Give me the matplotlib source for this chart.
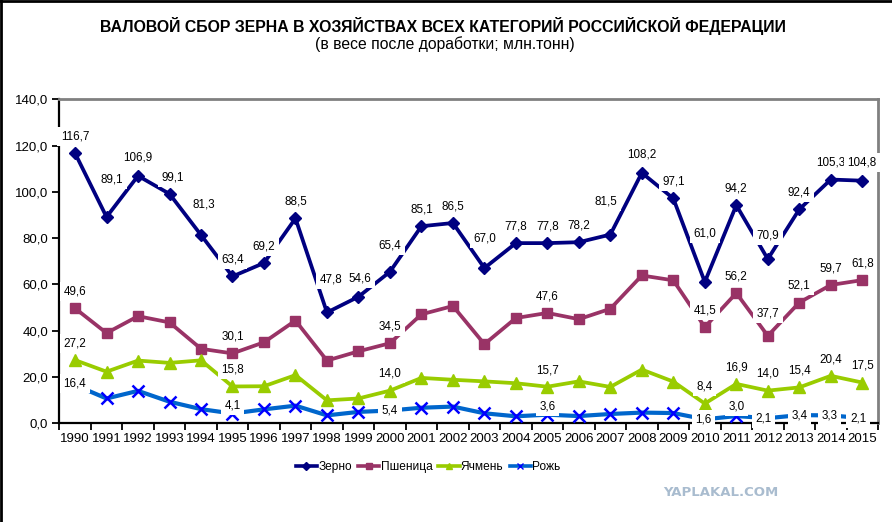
import matplotlib
matplotlib.use('Agg')
import matplotlib.pyplot as plt
from matplotlib.lines import Line2D
import numpy as np

plt.rcParams['font.family'] = ['Liberation Sans', 'DejaVu Sans']

years = [str(y) for y in range(1990, 2016)]

grain = [116.7, 89.1, 106.9, 99.1, 81.3, 63.4, 69.2, 88.5, 47.8, 54.6, 65.4, 85.1, 86.5,
         67.0, 77.8, 77.8, 78.2, 81.5, 108.2, 97.1, 61.0, 94.2, 70.9, 92.4, 105.3, 104.8]
wheat = [49.6, 38.9, 46.2, 43.5, 32.1, 30.1, 34.9, 44.3, 27.0, 31.0, 34.5, 47.0, 50.6,
         34.1, 45.4, 47.6, 44.9, 49.4, 63.8, 61.7, 41.5, 56.2, 37.7, 52.1, 59.7, 61.8]
barley = [27.2, 22.2, 27.0, 26.0, 27.1, 15.8, 15.9, 20.7, 9.8, 10.6, 14.0, 19.5, 18.7,
          18.0, 17.2, 15.7, 18.0, 15.6, 23.1, 17.9, 8.4, 16.9, 14.0, 15.4, 20.4, 17.5]
rye = [16.4, 10.6, 13.9, 9.2, 6.0, 4.1, 5.9, 7.5, 3.3, 4.8, 5.4, 6.6, 7.1,
       4.2, 2.9, 3.6, 3.0, 3.9, 4.5, 4.3, 1.6, 3.0, 2.1, 3.4, 3.3, 2.1]

# which points get a value label
grain_lab = list(range(26))
wheat_lab = [0, 5, 10, 15, 20, 21, 22, 23, 24, 25]
barley_lab = [0, 5, 10, 15, 20, 21, 22, 23, 24, 25]
rye_lab = [0, 5, 10, 15, 20, 21, 22, 23, 24, 25]

# label offsets above the point (points)
grain_dy = [12, 27, 13, 12, 22, 12, 12, 12, 24, 13, 19, 12, 12,
            21, 12, 12, 12, 24, 13, 12, 35, 12, 17, 12, 12, 13]
grain_dx = [0, 4, 0, 2, 2, 0, 0, 0, 3, 1, 0, 0, 0,
            0, 0, 0, 0, -3, 0, 0, 0, 0, 0, 0, 0, 0]
rye_dy = {0: 1, 5: 6, 10: 0, 15: 6, 20: 0, 21: 7, 22: 0, 23: 0, 24: 0, 25: 0}
rye_dx = {0: 0, 5: 0, 10: 0, 15: 0, 20: -1, 21: 0, 22: -3, 23: 0, 24: -1, 25: -3}

c_grain = '#000080'
c_wheat = '#993366'
c_barley = '#99cc00'
c_rye = '#0066cc'


def fmt(v):
    return ('%.1f' % v).replace('.', ',')


fig = plt.figure(figsize=(8.92, 5.22), dpi=100)
ax = fig.add_axes([59.3 / 892, 1 - 423 / 522, (878 - 59.3) / 892, (423 - 99.3) / 522])

x = np.arange(len(years))
ax.plot(x, grain, color=c_grain, lw=2.7, marker='D', ms=6.5, zorder=3)
ax.plot(x, wheat, color=c_wheat, lw=2.7, marker='s', ms=7.5, zorder=3)
ax.plot(x, barley, color=c_barley, lw=2.7, marker='^', ms=8, zorder=3)
ax.plot(x, rye, color=c_rye, lw=3, marker='x', ms=8, mew=1.8, mec='#0000ff', zorder=3)

box = dict(boxstyle='square,pad=0.3', fc='white', ec='none')
lab_fs = 8.4
for i in grain_lab:
    ax.annotate(fmt(grain[i]), (x[i], grain[i]), xytext=(grain_dx[i], grain_dy[i]),
                textcoords='offset points', ha='center', va='center', fontsize=lab_fs,
                bbox=box, zorder=5)
for i in wheat_lab:
    ax.annotate(fmt(wheat[i]), (x[i], wheat[i]), xytext=(0, 12 if i != 22 else 16),
                textcoords='offset points', ha='center', va='center', fontsize=lab_fs,
                bbox=box, zorder=5)
for i in barley_lab:
    ax.annotate(fmt(barley[i]), (x[i], barley[i]), xytext=(0, 12),
                textcoords='offset points', ha='center', va='center', fontsize=lab_fs,
                bbox=box, zorder=5)
for i in rye_lab:
    ax.annotate(fmt(rye[i]), (x[i], rye[i]), xytext=(rye_dx[i], rye_dy[i]),
                textcoords='offset points', ha='center', va='center', fontsize=lab_fs,
                bbox=box, zorder=5)

ax.set_xlim(-0.5, len(years) - 0.5)
ax.set_ylim(0, 140)
ax.set_yticks(np.arange(0, 141, 20))
ax.set_yticklabels([fmt(v) for v in np.arange(0, 141, 20)], fontsize=9.5)
ax.set_xticks(x)
ax.set_xticklabels(years, fontsize=9.5)
ax.tick_params(axis='x', which='major', length=0, pad=7)
ax.set_xticks(np.arange(-0.5, len(years), 1), minor=True)
ax.tick_params(axis='x', which='minor', length=5, width=1.3, direction='out')
ax.tick_params(axis='y', length=5, width=1.3, direction='out', pad=3)

for s in ['left', 'bottom']:
    ax.spines[s].set_color('black')
    ax.spines[s].set_linewidth(1.6)
for s in ['top', 'right']:
    ax.spines[s].set_color('#808080')
    ax.spines[s].set_linewidth(2)

fig.text(0.497, 1 - 26 / 522, 'ВАЛОВОЙ СБОР ЗЕРНА В ХОЗЯЙСТВАХ ВСЕХ КАТЕГОРИЙ РОССИЙСКОЙ ФЕДЕРАЦИИ',
         ha='center', va='center', fontsize=11.4, fontweight='bold')
fig.text(0.499, 1 - 44 / 522, '(в весе после доработки; млн.тонн)',
         ha='center', va='center', fontsize=11.3)

handles = [
    Line2D([], [], color=c_grain, lw=2.6, marker='D', ms=4),
    Line2D([], [], color=c_wheat, lw=2.6, marker='s', ms=5),
    Line2D([], [], color=c_barley, lw=2.6, marker='^', ms=5),
    Line2D([], [], color=c_rye, lw=2.6, marker='x', ms=5, mec='#0000ff'),
]
fig.legend(handles, ['Зерно', 'Пшеница', 'Ячмень', 'Рожь'], loc='center',
           bbox_to_anchor=(428 / 892, 1 - 467 / 522), ncol=4, frameon=False,
           fontsize=8.6, handlelength=1.8, handletextpad=0.1, columnspacing=0.5)

fig.text(721 / 892, 1 - 493 / 522, 'YAPLAKAL.COM', ha='center', va='center',
         fontsize=9.5, fontweight='bold', color='#a9bccf', family='DejaVu Sans')

# border on left and top edge
fig.add_artist(Line2D([0.001, 0.001], [0, 1], color='black', lw=2, transform=fig.transFigure))
fig.add_artist(Line2D([0, 1], [0.999, 0.999], color='black', lw=2, transform=fig.transFigure))

fig.savefig('out.png', dpi=100)
